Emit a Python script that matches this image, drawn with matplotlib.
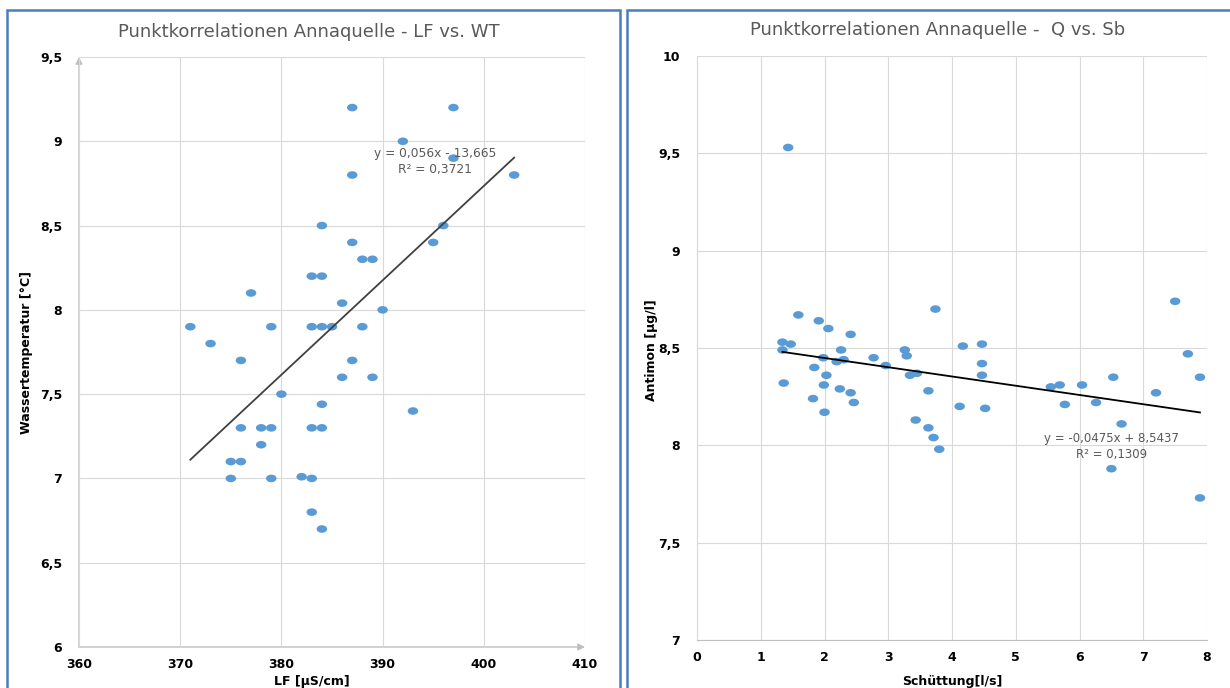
import matplotlib
matplotlib.use("Agg")
import matplotlib.pyplot as plt
from matplotlib.markers import MarkerStyle
from matplotlib.transforms import Affine2D
from matplotlib.patches import Rectangle
from matplotlib.ticker import FuncFormatter

# ---------------- data: left chart (LF vs WT) ----------------
lf = [387, 397, 392, 397, 387, 403, 384, 396, 395, 387, 388, 389, 383, 384,
      377, 386, 390, 371, 379, 383, 384, 385, 388, 373, 376, 387, 386, 389,
      380, 384, 393, 376, 378, 379, 383, 384, 378, 375, 376, 375, 379, 382,
      383, 383, 384]
wt = [9.2, 9.2, 9.0, 8.9, 8.8, 8.8, 8.5, 8.5, 8.4, 8.4, 8.3, 8.3, 8.2, 8.2,
      8.1, 8.04, 8.0, 7.9, 7.9, 7.9, 7.9, 7.9, 7.9, 7.8, 7.7, 7.7, 7.6, 7.6,
      7.5, 7.44, 7.4, 7.3, 7.3, 7.3, 7.3, 7.3, 7.2, 7.1, 7.1, 7.0, 7.0, 7.01,
      7.0, 6.8, 6.7]
left_slope, left_intercept = 0.056, -13.665
left_eq = "y = 0,056x - 13,665"
left_r2 = "R² = 0,3721"

# ---------------- data: right chart (Q vs Sb) ----------------
q = [1.43, 1.59, 1.91, 2.06, 2.41, 3.74, 7.50, 1.34, 1.47, 1.34, 2.26, 3.26,
     3.29, 4.17, 4.47, 7.70, 1.98, 2.19, 2.30, 2.77, 2.96, 1.84, 2.03, 3.34,
     3.45, 4.47, 4.47, 6.53, 7.89, 1.36, 1.99, 2.24, 5.55, 5.69, 6.04, 3.63,
     2.41, 2.46, 1.82, 2.00, 4.12, 4.52, 5.77, 6.26, 7.20, 3.43, 3.63, 3.71,
     3.80, 6.66, 6.50, 7.89]
sb = [9.53, 8.67, 8.64, 8.60, 8.57, 8.70, 8.74, 8.53, 8.52, 8.49, 8.49, 8.49,
      8.46, 8.51, 8.52, 8.47, 8.45, 8.43, 8.44, 8.45, 8.41, 8.40, 8.36, 8.36,
      8.37, 8.42, 8.36, 8.35, 8.35, 8.32, 8.31, 8.29, 8.30, 8.31, 8.31, 8.28,
      8.27, 8.22, 8.24, 8.17, 8.20, 8.19, 8.21, 8.22, 8.27, 8.13, 8.09, 8.04,
      7.98, 8.11, 7.88, 7.73]
right_slope, right_intercept = -0.0475, 8.5437
right_eq = "y = -0,0475x + 8,5437"
right_r2 = "R² = 0,1309"

left_xticks = [360, 370, 380, 390, 400, 410]
left_yticks = [6, 6.5, 7, 7.5, 8, 8.5, 9, 9.5]
right_xticks = [0, 1, 2, 3, 4, 5, 6, 7, 8]
right_yticks = [7, 7.5, 8, 8.5, 9, 9.5, 10]

title_left = "Punktkorrelationen Annaquelle - LF vs. WT"
title_right = "Punktkorrelationen Annaquelle -  Q vs. Sb"

# ---------------- style ----------------
W, H = 1230, 688
fig = plt.figure(figsize=(W / 100, H / 100), dpi=100)
fig.patch.set_facecolor("white")

dot = "#5B9BD5"
grid_c = "#D9D9D9"
axis_c = "#BFBFBF"
txt_gray = "#595959"
border_c = "#4A7EBB"

marker = MarkerStyle("o", transform=Affine2D().scale(1.38, 1.0))


def fx(px):
    return px / W


def fy(py):
    return 1 - py / H


def comma(v, pos):
    return ("%g" % v).replace(".", ",")


# panel borders
fig.patches.append(Rectangle((fx(7), fy(700)), fx(620) - fx(7), fy(10) - fy(700),
                             transform=fig.transFigure, fill=False,
                             edgecolor=border_c, lw=1.8, zorder=0))
fig.patches.append(Rectangle((fx(627), fy(700)), fx(1240) - fx(627), fy(10) - fy(700),
                             transform=fig.transFigure, fill=False,
                             edgecolor=border_c, lw=1.8, zorder=0))


def style_axes(ax):
    ax.xaxis.set_major_formatter(FuncFormatter(comma))
    ax.yaxis.set_major_formatter(FuncFormatter(comma))
    ax.grid(True, color=grid_c, lw=0.8, zorder=0)
    for s in ax.spines.values():
        s.set_visible(False)
    ax.tick_params(length=0, labelsize=9, colors="black", pad=12)
    ax.tick_params(axis="x", pad=8)
    for lab in ax.get_xticklabels() + ax.get_yticklabels():
        lab.set_fontweight("bold")


# ---------------- left axes ----------------
axl = fig.add_axes([fx(79), fy(647), fx(585) - fx(79), fy(57) - fy(647)])
axl.set_xlim(360, 410)
axl.set_ylim(6, 9.5)
axl.set_xticks(left_xticks)
axl.set_yticks(left_yticks)
style_axes(axl)
arrow = dict(arrowstyle="-|>", color=axis_c, lw=1, mutation_scale=10, shrinkA=0, shrinkB=0)
axl.annotate("", xy=(360, 9.5), xytext=(360, 6), arrowprops=arrow, zorder=1)
axl.annotate("", xy=(410, 6), xytext=(360, 6), arrowprops=arrow, zorder=1)
axl.scatter(lf, wt, s=30, marker=marker, color=dot, edgecolors="none", zorder=3)
xl0, xl1 = min(lf), max(lf)
axl.plot([xl0, xl1], [left_slope * xl0 + left_intercept, left_slope * xl1 + left_intercept],
         color="#404040", lw=1.3, zorder=4)
axl.text(395.2, 8.93, left_eq, ha="center", va="center", fontsize=8.8, color=txt_gray, zorder=5)
axl.text(395.2, 8.83, left_r2, ha="center", va="center", fontsize=8.8, color=txt_gray, zorder=5)

fig.text(fx(309), fy(32), title_left, ha="center", va="center", fontsize=13, color=txt_gray)
fig.text(fx(312), fy(681), "LF [µS/cm]", ha="center", va="center", fontsize=9,
         fontweight="bold", color="black")
fig.text(fx(27), fy(352), "Wassertemperatur [°C]", ha="center", va="center", fontsize=9,
         fontweight="bold", color="black", rotation=90)

# ---------------- right axes ----------------
axr = fig.add_axes([fx(697), fy(640), fx(1207) - fx(697), fy(56) - fy(640)])
axr.set_xlim(0, 8)
axr.set_ylim(7, 10)
axr.set_xticks(right_xticks)
axr.set_yticks(right_yticks)
style_axes(axr)
axr.spines["bottom"].set_visible(True)
axr.spines["bottom"].set_color(axis_c)
axr.spines["left"].set_visible(True)
axr.spines["left"].set_color(grid_c)
axr.scatter(q, sb, s=30, marker=marker, color=dot, edgecolors="none", zorder=3)
xr0, xr1 = min(q), max(q)
axr.plot([xr0, xr1], [right_slope * xr0 + right_intercept, right_slope * xr1 + right_intercept],
         color="black", lw=1.3, zorder=4)
axr.text(6.5, 8.033, right_eq, ha="center", va="center", fontsize=8.5, color=txt_gray, zorder=5)
axr.text(6.5, 7.951, right_r2, ha="center", va="center", fontsize=8.5, color=txt_gray, zorder=5)

fig.text(fx(938), fy(30), title_right, ha="center", va="center", fontsize=13, color=txt_gray)
fig.text(fx(952), fy(681), "Schüttung[l/s]", ha="center", va="center", fontsize=9,
         fontweight="bold", color="black")
fig.text(fx(652), fy(350), "Antimon [µg/l]", ha="center", va="center", fontsize=9,
         fontweight="bold", color="black", rotation=90)

fig.savefig("out.png", dpi=100, facecolor="white")
